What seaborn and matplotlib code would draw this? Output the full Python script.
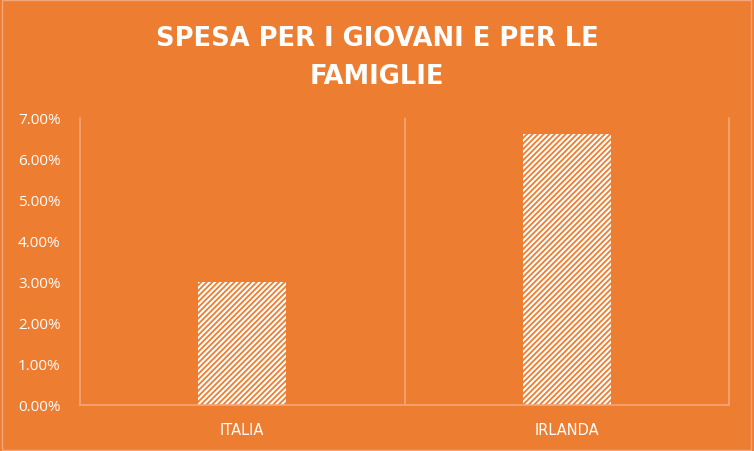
import matplotlib
matplotlib.use("Agg")
import matplotlib.pyplot as plt
import seaborn as sns
import pandas as pd
from matplotlib.ticker import FuncFormatter, MultipleLocator
from matplotlib.patches import Rectangle

categories = ["ITALIA", "IRLANDA"]
values = [3.00, 6.61]
title = "SPESA PER I GIOVANI E PER LE\nFAMIGLIE"

BG = "#ED7D31"
LINE = "#F4A57A"

sns.set_theme(style="white")
plt.rcParams['font.family'] = ['Open Sans', 'DejaVu Sans']
plt.rcParams['hatch.linewidth'] = 1.3
plt.rcParams['hatch.color'] = BG

df = pd.DataFrame({"cat": categories, "val": values})

fig = plt.figure(figsize=(7.54, 4.52), dpi=100, facecolor=BG)
ax = fig.add_axes([0.106, 0.102, 0.861, 0.635])
ax.set_facecolor(BG)

sns.barplot(data=df, x="cat", y="val", ax=ax, width=0.27, color="white",
            edgecolor=BG, linewidth=0, saturation=1)
for p in ax.patches:
    p.set_hatch("//////")
    p.set_edgecolor(BG)
    p.set_linewidth(0)

ax.set_xlim(-0.5, 1.5)
ax.set_ylim(0, 7)
ax.yaxis.set_major_locator(MultipleLocator(1))
ax.yaxis.set_major_formatter(FuncFormatter(lambda v, _: f"{v:.2f}%"))
ax.set_xlabel("")
ax.set_ylabel("")

ax.spines["top"].set_visible(False)
for s in ["left", "right", "bottom"]:
    ax.spines[s].set_visible(True)
    ax.spines[s].set_color(LINE)
    ax.spines[s].set_linewidth(1.2)
ax.axvline(0.5, color=LINE, lw=1.2, zorder=0)

ax.tick_params(axis="y", colors="white", labelsize=11, length=0, pad=14)
ax.tick_params(axis="x", colors="white", labelsize=10.5, length=0, pad=12)
for lbl in ax.get_xticklabels():
    lbl.set_family("DejaVu Sans")

fig.text(0.5, 0.872, title, ha="center", va="center", color="white",
         family="DejaVu Sans", fontsize=18.5, fontweight="bold", linespacing=1.62)

fig.patches.append(Rectangle((0.002, 0.003), 0.994, 0.994, transform=fig.transFigure,
                             fill=False, edgecolor=LINE, lw=1.0))

fig.savefig("out.png", dpi=100, facecolor=BG)
